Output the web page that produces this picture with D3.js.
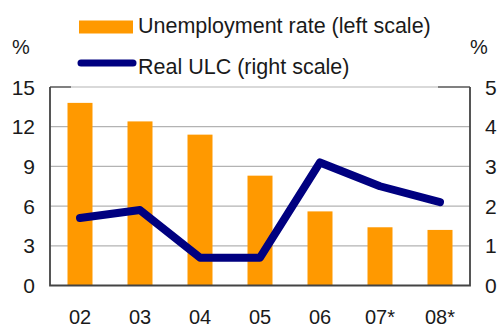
<!DOCTYPE html>
<html>
<head>
<meta charset="utf-8">
<script src="https://cdn.jsdelivr.net/npm/d3@7"></script>
<style>
  html, body { margin: 0; padding: 0; background: #fff; }
  svg { display: block; }
  text { font-family: "Liberation Sans", Arial, sans-serif; fill: #1a1a1a; }
</style>
</head>
<body>
<svg id="chart" width="500" height="327"></svg>
<script>
// Years shown on the category axis (* = forecast)
const years = ["02", "03", "04", "05", "06", "07*", "08*"];
// Unemployment rate, %, left scale
const unemployment = [13.8, 12.4, 11.4, 8.3, 5.6, 4.4, 4.2];
// Real unit labour costs, %, right scale
const realULC = [1.7, 1.9, 0.7, 0.7, 3.1, 2.5, 2.1];
// Tick values for both scales
const leftTicks = [0, 3, 6, 9, 12, 15];
const rightTicks = [0, 1, 2, 3, 4, 5];

const svg = d3.select("#chart");
const m = { left: 50, right: 470, top: 87, bottom: 285.5 };

const xc = d3.scaleBand().domain(years).range([m.left, m.right]);
const yL = d3.scaleLinear().domain([0, 15]).range([m.bottom, m.top]);
const yR = d3.scaleLinear().domain([0, 5]).range([m.bottom, m.top]);
const cx = d => xc(d) + xc.bandwidth() / 2;

// horizontal gridlines
svg.append("g")
  .selectAll("line")
  .data(leftTicks.slice(1))
  .join("line")
  .attr("x1", m.left).attr("x2", m.right)
  .attr("y1", d => yL(d)).attr("y2", d => yL(d))
  .attr("stroke", "#b3b3b3").attr("stroke-width", 1.2);

// short darker caps at the top corners
svg.append("line").attr("x1", m.left).attr("x2", 71).attr("y1", m.top).attr("y2", m.top)
  .attr("stroke", "#777").attr("stroke-width", 1.8);
svg.append("line").attr("x1", 438).attr("x2", m.right).attr("y1", m.top).attr("y2", m.top)
  .attr("stroke", "#777").attr("stroke-width", 1.8);

// bars
svg.append("g")
  .selectAll("rect")
  .data(unemployment)
  .join("rect")
  .attr("x", (d, i) => cx(years[i]) - 12.5)
  .attr("width", 25)
  .attr("y", d => yL(d))
  .attr("height", d => yL(0) - yL(d))
  .attr("fill", "#ff9900");

// axes frame (left, bottom, right)
svg.append("path")
  .attr("d", `M${m.left},${m.top}V${m.bottom}H${m.right}V${m.top}`)
  .attr("fill", "none").attr("stroke", "#444").attr("stroke-width", 1.8);

// line series
const line = d3.line()
  .x((d, i) => cx(years[i]))
  .y(d => yR(d));
svg.append("path")
  .datum(realULC)
  .attr("d", line)
  .attr("fill", "none")
  .attr("stroke", "#000080")
  .attr("stroke-width", 8)
  .attr("stroke-linecap", "round")
  .attr("stroke-linejoin", "round");

// axis labels
const fs = 21;
svg.append("g")
  .selectAll("text")
  .data(leftTicks)
  .join("text")
  .attr("x", 35).attr("y", d => yL(d))
  .attr("dy", "0.36em")
  .attr("text-anchor", "end")
  .attr("font-size", fs)
  .text(d => d);

svg.append("g")
  .selectAll("text")
  .data(rightTicks)
  .join("text")
  .attr("x", 485).attr("y", d => yR(d))
  .attr("dy", "0.36em")
  .attr("text-anchor", "start")
  .attr("font-size", fs)
  .text(d => d);

svg.append("g")
  .selectAll("text")
  .data(years)
  .join("text")
  .attr("x", d => cx(d))
  .attr("y", 324)
  .attr("text-anchor", "middle")
  .attr("font-size", 20)
  .text(d => d);

// unit markers
svg.append("text").attr("x", 12).attr("y", 53.5).attr("font-size", 20).text("%");
svg.append("text").attr("x", 470).attr("y", 53.5).attr("font-size", 20).text("%");

// legend
const lg = svg.append("g");
lg.append("rect").attr("x", 79).attr("y", 20.5).attr("width", 54).attr("height", 13).attr("fill", "#ff9900");
lg.append("text").attr("x", 138).attr("y", 33).attr("font-size", 21.5).text("Unemployment rate (left scale)");
lg.append("line").attr("x1", 81).attr("x2", 133).attr("y1", 63).attr("y2", 63)
  .attr("stroke", "#000080").attr("stroke-width", 7).attr("stroke-linecap", "round");
lg.append("text").attr("x", 138).attr("y", 74).attr("font-size", 21.5).text("Real ULC (right scale)");
</script>
</body>
</html>
